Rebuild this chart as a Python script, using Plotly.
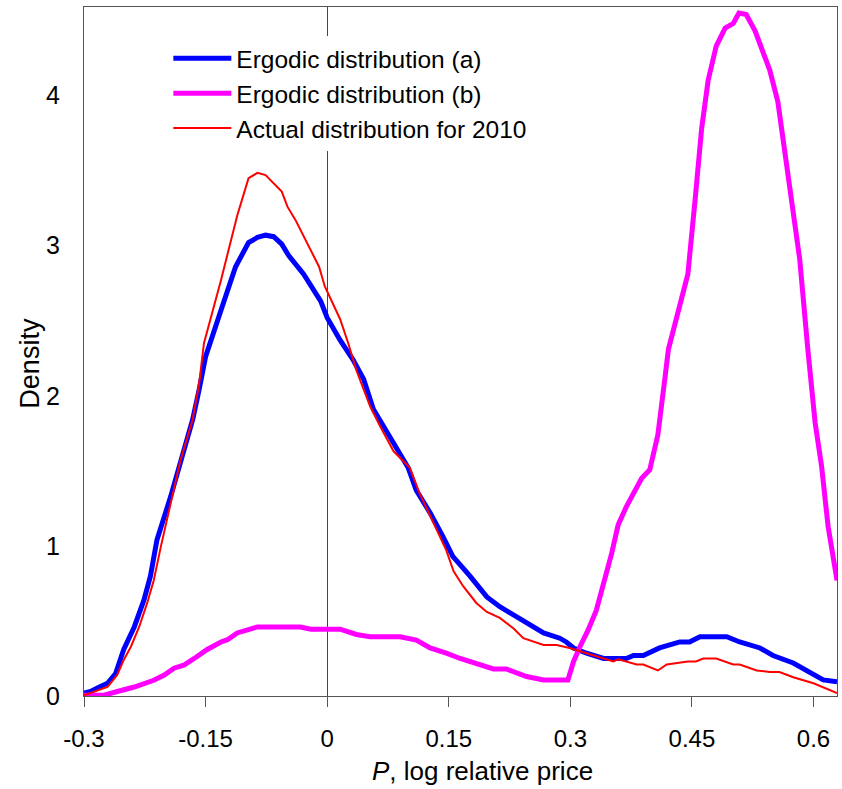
import plotly.graph_objects as go

# ---- data ----
blue_x = [-0.300, -0.292, -0.281, -0.271, -0.261, -0.251, -0.238, -0.226, -0.218, -0.210,
          -0.193, -0.177, -0.166, -0.158, -0.150, -0.131, -0.113, -0.097, -0.086, -0.076,
          -0.066, -0.056, -0.047, -0.029, -0.016, -0.008, 0.000, 0.016, 0.032, 0.045,
          0.057, 0.073, 0.090, 0.100, 0.110, 0.127, 0.143, 0.155, 0.176, 0.197,
          0.213, 0.238, 0.250, 0.267, 0.287, 0.295, 0.304, 0.320, 0.341, 0.369,
          0.378, 0.390, 0.410, 0.423, 0.435, 0.447, 0.460, 0.493, 0.509, 0.534,
          0.550, 0.575, 0.595, 0.612, 0.629]
blue_y = [0.02, 0.03, 0.06, 0.085, 0.15, 0.31, 0.46, 0.64, 0.80, 1.04,
          1.33, 1.64, 1.84, 2.04, 2.26, 2.57, 2.86, 3.02, 3.055, 3.07,
          3.06, 3.01, 2.93, 2.81, 2.70, 2.63, 2.52, 2.37, 2.24, 2.11,
          1.91, 1.77, 1.62, 1.52, 1.37, 1.22, 1.06, 0.93, 0.80, 0.66,
          0.595, 0.51, 0.47, 0.42, 0.385, 0.36, 0.32, 0.285, 0.25, 0.25,
          0.27, 0.27, 0.32, 0.34, 0.36, 0.36, 0.395, 0.395, 0.36, 0.32,
          0.27, 0.22, 0.16, 0.107, 0.095]

magenta_x = [-0.300, -0.275, -0.259, -0.238, -0.214, -0.201, -0.189, -0.177, -0.164, -0.148,
             -0.131, -0.123, -0.111, -0.099, -0.086, -0.033, -0.020, 0.016, 0.036, 0.053,
             0.090, 0.110, 0.127, 0.147, 0.164, 0.205, 0.221, 0.246, 0.267, 0.297,
             0.304, 0.312, 0.322, 0.332, 0.343, 0.351, 0.359, 0.369, 0.388, 0.398,
             0.408, 0.413, 0.417, 0.421, 0.433, 0.445, 0.454, 0.462, 0.470, 0.480,
             0.491, 0.501, 0.508, 0.517, 0.528, 0.536, 0.546, 0.556, 0.565, 0.573,
             0.583, 0.593, 0.602, 0.610, 0.618, 0.629]
magenta_y = [0.005, 0.005, 0.03, 0.06, 0.105, 0.14, 0.185, 0.205, 0.25, 0.31,
             0.36, 0.375, 0.42, 0.44, 0.46, 0.46, 0.445, 0.445, 0.41, 0.395,
             0.395, 0.373, 0.32, 0.285, 0.25, 0.18, 0.18, 0.13, 0.107, 0.107,
             0.23, 0.33, 0.44, 0.57, 0.785, 0.95, 1.14, 1.26, 1.45, 1.507,
             1.74, 1.93, 2.13, 2.31, 2.57, 2.81, 3.31, 3.78, 4.10, 4.33,
             4.45, 4.48, 4.55, 4.54, 4.43, 4.31, 4.17, 3.96, 3.62, 3.33,
             2.91, 2.31, 1.82, 1.53, 1.13, 0.77]

red_x = [-0.300, -0.271, -0.259, -0.251, -0.242, -0.232, -0.222, -0.214, -0.205, -0.193,
         -0.181, -0.166, -0.158, -0.152, -0.131, -0.111, -0.097, -0.086, -0.076, -0.056,
         -0.049, -0.039, -0.025, -0.010, -0.003, 0.003, 0.016, 0.026, 0.036, 0.053,
         0.065, 0.082, 0.102, 0.114, 0.139, 0.147, 0.156, 0.168, 0.184, 0.197,
         0.213, 0.230, 0.242, 0.267, 0.283, 0.299, 0.320, 0.353, 0.359, 0.382,
         0.390, 0.408, 0.419, 0.435, 0.445, 0.455, 0.464, 0.480, 0.501, 0.509,
         0.530, 0.546, 0.558, 0.575, 0.600, 0.629]
red_y = [0.005, 0.06, 0.14, 0.24, 0.33, 0.46, 0.62, 0.77, 1.00, 1.28,
         1.57, 1.84, 2.08, 2.35, 2.77, 3.20, 3.45, 3.485, 3.47, 3.36,
         3.26, 3.17, 3.02, 2.86, 2.73, 2.66, 2.51, 2.35, 2.17, 1.93,
         1.80, 1.63, 1.52, 1.35, 1.06, 0.97, 0.83, 0.73, 0.62, 0.56,
         0.52, 0.45, 0.385, 0.34, 0.34, 0.32, 0.285, 0.23, 0.245, 0.21,
         0.21, 0.17, 0.21, 0.22, 0.23, 0.23, 0.25, 0.25, 0.21, 0.21,
         0.17, 0.16, 0.16, 0.125, 0.085, 0.02]

series_names = ["Ergodic distribution (a)", "Ergodic distribution (b)", "Actual distribution for 2010"]

x_tick_vals = [-0.3, -0.15, 0, 0.15, 0.3, 0.45, 0.6]
x_tick_text = ["-0.3", "-0.15", "0", "0.15", "0.3", "0.45", "0.6"]
y_tick_vals = [0, 1, 2, 3, 4]
y_tick_text = ["0", "1", "2", "3", "4"]

FONT = "Arial, Liberation Sans, sans-serif"

fig = go.Figure()
fig.add_trace(go.Scatter(x=blue_x, y=blue_y, mode="lines", name=series_names[0],
                         line=dict(color="#0000FF", width=5)))
fig.add_trace(go.Scatter(x=magenta_x, y=magenta_y, mode="lines", name=series_names[1],
                         line=dict(color="#FF00FF", width=5)))
fig.add_trace(go.Scatter(x=red_x, y=red_y, mode="lines", name=series_names[2],
                         line=dict(color="#FF0000", width=2)))

fig.update_layout(
    width=842, height=789,
    margin=dict(l=84, r=5, t=7, b=93),
    paper_bgcolor="white", plot_bgcolor="white",
    font=dict(family=FONT, size=24, color="black"),
    showlegend=True,
    legend=dict(x=0.112, y=0.958, xanchor="left", yanchor="top",
                bgcolor="white", borderwidth=0, itemwidth=58,
                font=dict(family=FONT, size=24.5, color="black")),
    xaxis=dict(range=[-0.3, 0.629], tickvals=x_tick_vals, ticktext=x_tick_text,
               showgrid=False, zeroline=True, zerolinecolor="#444", zerolinewidth=1,
               showline=True, mirror=True, linecolor="#555", linewidth=1,
               ticks="outside", ticklen=10, tickcolor="#555", ticklabelstandoff=11,
               tickfont=dict(family=FONT, size=24)),
    yaxis=dict(range=[0, 4.59], tickvals=y_tick_vals, ticktext=y_tick_text,
               showgrid=False, zeroline=False,
               showline=True, mirror=True, linecolor="#555", linewidth=1,
               ticks="", ticklabelstandoff=18,
               tickfont=dict(family=FONT, size=25)),
    annotations=[
        dict(text="<i>P</i>, log relative price", xref="paper", yref="paper",
             x=0.5286, y=-0.1089, xanchor="center", yanchor="middle", showarrow=False,
             font=dict(family=FONT, size=26)),
        dict(text="Density", xref="paper", yref="paper", textangle=-90,
             x=-0.072, y=0.4835, xanchor="center", yanchor="middle", showarrow=False,
             font=dict(family=FONT, size=27)),
    ],
)

fig.write_html("out.html", config={"displayModeBar": False},
               post_script="document.body.style.margin='0';document.body.style.overflow='hidden';")
